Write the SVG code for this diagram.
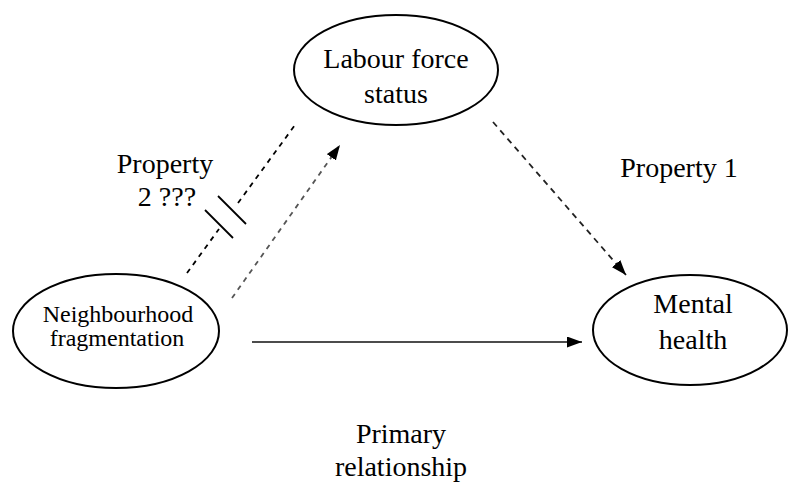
<svg xmlns="http://www.w3.org/2000/svg" width="790" height="483" viewBox="0 0 790 483">
  <defs>
    <style>
      .node { fill: #ffffff; stroke: #000000; stroke-width: 2; }
      .label { font-family: 'Liberation Serif', 'Times New Roman', serif; font-size: 28px; fill: #000000; text-anchor: middle; }
      .small { font-size: 24px; }
      .solid { fill: none; stroke: #111111; stroke-width: 1.6; }
      .dash-grey { fill: none; stroke: #555555; stroke-width: 1.8; stroke-dasharray: 5 5; }
      .dash-dark { fill: none; stroke: #222222; stroke-width: 1.8; stroke-dasharray: 6 5; }
      .dash-black { fill: none; stroke: #000000; stroke-width: 1.8; stroke-dasharray: 5 5; }
      .break { fill: none; stroke: #000000; stroke-width: 1.8; }
    </style>
    <marker id="arrow" markerUnits="userSpaceOnUse" markerWidth="16" markerHeight="12" refX="15" refY="5.5" orient="auto">
      <path d="M0,0 L15,5.5 L0,11 Z" fill="#000000"/>
    </marker>
  </defs>

  <rect width="790" height="483" fill="#ffffff"/>

  <!-- connectors -->
  <g id="connectors">
    <!-- primary relationship -->
    <line class="solid" x1="252" y1="342" x2="582" y2="342" marker-end="url(#arrow)"/>
    <!-- neighbourhood to labour force -->
    <line class="dash-grey" x1="232" y1="298" x2="340" y2="145" marker-end="url(#arrow)"/>
    <!-- labour force to mental health -->
    <line class="dash-dark" x1="493" y1="122" x2="626" y2="275" marker-end="url(#arrow)"/>
    <!-- broken path (property 2) with break marks -->
    <line class="dash-black" x1="187" y1="273" x2="219" y2="229"/>
    <line class="dash-black" x1="238" y1="203" x2="295" y2="125"/>
    <line class="break" x1="205" y1="210" x2="233" y2="238"/>
    <line class="break" x1="218" y1="196" x2="246" y2="224"/>
  </g>

  <!-- nodes -->
  <g id="labour-force">
    <ellipse class="node" cx="396" cy="70" rx="102" ry="55"/>
    <text class="label" x="396" y="68">Labour force</text>
    <text class="label" x="396" y="103">status</text>
  </g>

  <g id="neighbourhood">
    <ellipse class="node" cx="116" cy="331" rx="103" ry="57"/>
    <text class="label small" x="118" y="322">Neighbourhood</text>
    <text class="label small" x="117" y="346">fragmentation</text>
  </g>

  <g id="mental-health">
    <ellipse class="node" cx="690" cy="330" rx="97" ry="55"/>
    <text class="label" x="693" y="313">Mental</text>
    <text class="label" x="693" y="349">health</text>
  </g>

  <!-- labels -->
  <g id="labels">
    <text class="label" x="679" y="177">Property 1</text>
    <text class="label" x="165" y="173">Property</text>
    <text class="label" x="167" y="206">2 ???</text>
    <text class="label" x="401" y="443">Primary</text>
    <text class="label" x="401" y="476">relationship</text>
  </g>
</svg>
